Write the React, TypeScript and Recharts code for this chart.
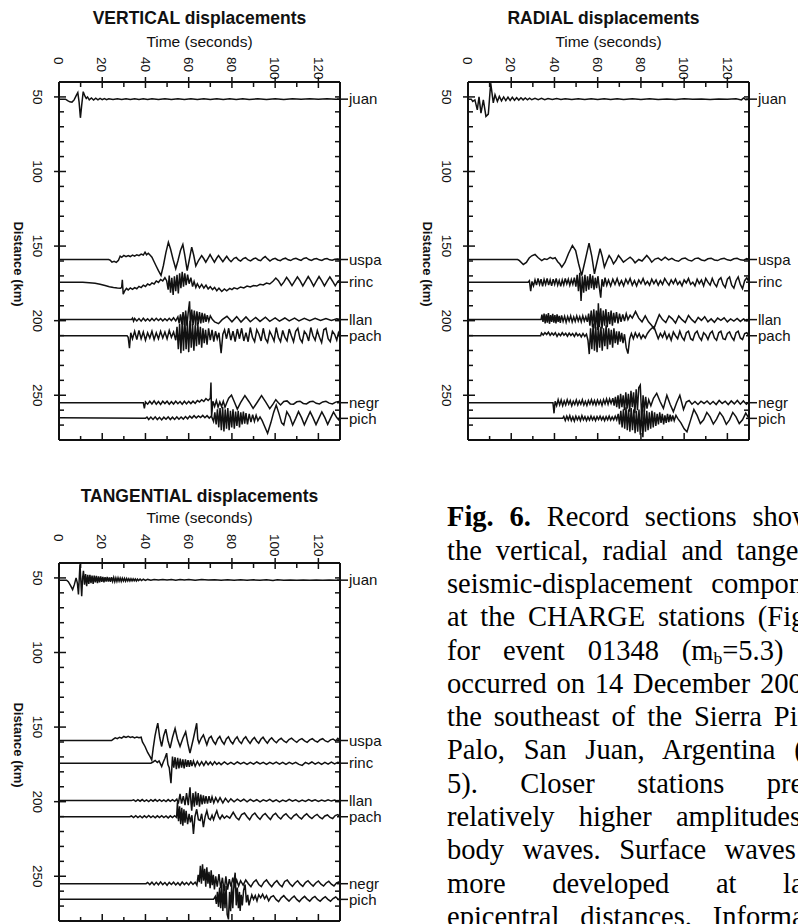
import React from 'react';
import { LineChart, Line, XAxis, YAxis } from 'recharts';

// [time in s, displacement in km (up = positive)] per station trace
type Pt = [number, number];

const STATIONS = ['juan', 'uspa', 'rinc', 'llan', 'pach', 'negr', 'pich'];
const DISTANCES = [51.5, 159, 174.2, 199.3, 210.1, 255, 265.5];

const TIME_LABELS = [0, 20, 40, 60, 80, 100, 120];
const TIME_TICKS = [0, 10, 20, 30, 40, 50, 60, 70, 80, 90, 100, 110, 120];
const DIST_LABELS = [50, 100, 150, 200, 250];
const DIST_TICKS = [50, 60, 70, 80, 90, 100, 110, 120, 130, 140, 150, 160, 170, 180, 190, 200, 210, 220, 230, 240, 250, 260, 270];

// ---------- VERTICAL ----------
const V_JUAN: Pt[] = [[0,0],[3,0],[4,-1],[5,-1.8],[6,-2],[7,-0.5],[8,2.5],[8.7,4.4],[9.3,-2],[9.9,-12.5],[10.5,-4],[11.2,5],[12,2],[12.6,0.5],[13.2,1.5],[14,-0.5],[15,0.8],[16,-0.6],[17,0.6],[18,-0.5],[19,0.5],[20,-0.3],[21,0.4],[22,-0.3],[23,0.3],[25,-0.3],[27,0.3],[29,-0.3],[31,0.3],[33,-0.3],[35,0.3],[37,-0.2],[39,0.3],[41,-0.3],[43,0.2],[46,-0.3],[49,0.2],[52,-0.3],[55,0.3],[58,-0.2],[61,0.3],[64,-0.3],[67,0.2],[70,-0.2],[73,0.3],[76,-0.3],[79,0.2],[82,-0.2],[85,0.2],[88,-0.2],[92,0.2],[96,-0.2],[100,0.2],[104,-0.2],[108,0.2],[112,-0.1],[116,0.2],[120,-0.1],[124,0.2],[128,-0.1],[130,0]];
const V_USPA: Pt[] = [[0,0],[23,0],[23.8,-0.6],[24.5,-1.8],[25.5,-1.2],[26.5,-1.9],[27.5,-0.5],[28.3,2.3],[29,1.5],[30,2.8],[31,1.9],[32,2.7],[33,2],[34,2.9],[35,2.2],[36,3.2],[37,2.6],[38,3.6],[39,3],[39.8,4.9],[40.5,3.2],[41.3,4.2],[42.2,2.8],[43,1.6],[44,-1.5],[45,-4.5],[46,-7.5],[47.2,-10.7],[48.3,-4],[49.5,5],[50.6,11.6],[51.6,7],[52.8,0],[54,-6.2],[55,-1],[56.2,6],[57.3,10.1],[58.3,2],[59.3,-7.4],[60.3,0],[61.4,8.3],[62.3,3],[63.3,-4.3],[64.6,-0.5],[66,2.6],[67,0.5],[67.9,-1.8],[69,1],[69.9,3.3],[71,0.5],[71.9,-1.8],[73,1],[73.8,2.6],[75,0.2],[75.8,-1.5],[77,1],[77.6,2.2],[78.6,0],[79.6,-1.5],[81,0.8],[82,1.4],[83,-0.2],[84,-1],[85.2,0.6],[86.3,1.2],[87.5,-0.3],[88.6,-0.9],[90,0.5],[91,1],[92.2,-0.3],[93.3,-0.8],[94.4,1],[95.4,2],[96.5,0.4],[97.6,-1],[98.8,0.2],[100,0.8],[101.2,-0.3],[102.4,-0.8],[103.6,0.4],[104.8,0.9],[106,-0.2],[107.2,-0.7],[108.4,0.4],[109.6,0.8],[110.8,0],[112,-0.6],[113.2,0.7],[114.4,1.2],[115.6,0],[116.8,-0.6],[118,0.3],[119.2,0.6],[120.4,-0.2],[121.6,-0.6],[122.8,0.3],[124,0.6],[125.2,-0.2],[126.4,-0.5],[127.6,0.2],[128.8,0.4],[130,0]];
const V_RINC: Pt[] = [[0,0],[11,0],[14,-0.3],[16.7,-0.7],[19,-1.4],[21.3,-2.2],[23.3,-3],[25.2,-3.6],[27,-3.9],[28.5,-4],[29,-3.5],[29.3,1.6],[29.7,-8],[30.4,-5.8],[31.2,-4.2],[32,-5.2],[33,-3.8],[34,-4.8],[35,-3.6],[36,-4.4],[37,-2.8],[38,-3.6],[39,-2],[40,-2.9],[41,-1.2],[42,-2],[43,-0.5],[44,-1.2],[45,0.8],[46,-0.2],[47,1.8],[48,0.8],[49,3],[49.8,1],[50.5,-5],[51,4.5],[51.6,-7],[52.2,3],[52.8,-8.5],[53.4,4],[54,-6],[54.6,5],[55.2,-7.5],[55.8,6],[56.4,-4],[57,7],[57.6,-3],[58.2,6],[58.8,-2],[59.5,5],[60.2,-1],[61,3],[61.8,-3],[62.5,0.5],[63.3,-3.5],[64,-1],[65,-3.8],[66,-1.5],[67,-4],[68,-2],[69,-4.5],[70,-3],[71,-5],[72,-3.5],[73,-5.8],[74,-4],[75.3,-6.2],[76.5,-4.5],[77.6,-5.8],[79,-4.2],[80,-5],[81,-3.8],[82.5,-4.5],[84,-3.2],[85.5,-3.8],[87,-2.6],[88.5,-3.2],[90,-2.2],[91.5,-2.6],[93,-1.4],[94.5,-1.8],[96,-0.6],[97.5,-1.2],[99,0.6],[100.3,2.8],[101.5,1],[102.8,-2.2],[104,0],[105.3,3.2],[106.5,0.8],[107.8,-2.3],[109,0.5],[110.3,3.5],[111.5,1],[112.8,-2.5],[114,0.5],[115.3,3.8],[116.5,1],[117.8,-2.6],[119,0.5],[120.3,3.8],[121.5,1],[122.8,-2.5],[124,0.5],[125.3,3.6],[126.5,0.8],[127.8,-2.4],[129,0.5],[130,1.5]];
const V_LLAN: Pt[] = [[0,0],[33.5,0],[34,1],[34.5,-1],[35,0.8],[36,-0.9],[37,0.7],[38,-1],[39,0.9],[40,-0.8],[41,0.6],[42,-0.9],[43,0.8],[44,-0.7],[45,0.9],[46,-0.6],[47,0.7],[48,-0.8],[49,0.6],[50,-0.7],[51,0.9],[52,-0.6],[53,1.2],[54,-0.8],[55,1.8],[55.6,-2.5],[56.2,3.5],[56.8,-3],[57.4,5],[58,-3.5],[58.6,6],[59.2,-4],[59.8,5],[60.4,12.3],[60.8,-4.5],[61.4,6.7],[62,-3.5],[62.6,6],[63.2,-4],[63.8,5.5],[64.4,-3],[65,5],[65.6,-2.5],[66.2,4.5],[66.8,-2],[67.4,4],[68,-1.5],[68.6,3],[69.3,-1],[70,2.5],[71,0],[72,-1.5],[73.8,-2.7],[75.5,0],[77.7,2.2],[80,-1.5],[82.2,2],[84.2,-1.6],[86.5,1.8],[88.5,-1.4],[91,1.5],[93,-1.2],[95.5,1.6],[97.5,-1.1],[100,1.2],[102,-1],[104.5,1.1],[106.5,-0.9],[109,1],[111,-0.8],[113.5,0.9],[116,-0.7],[118.5,0.9],[121,-0.6],[123.5,0.8],[126,-0.5],[128.5,0.6],[130,0]];
const V_PACH: Pt[] = [[0,0],[31.5,0],[32,-1],[32.6,-8.4],[33.2,2],[34,-2],[35,3],[36,-2.5],[37,3.5],[38,-2],[39,2.5],[40,-3],[41,2],[42,-1.5],[43,3],[44,-2.5],[45,2],[46,-2],[47,3],[48,-1.5],[49,2.5],[50,-2],[51,3.5],[52,-1],[53,2.5],[54,-3],[54.6,6],[55.2,-9],[55.8,8],[56.4,-11.7],[57,10],[57.6,-10],[58.2,11.7],[58.8,-9],[59.4,9],[60,-11],[60.6,10],[61.2,-8],[61.8,8],[62.4,-10],[63,7],[63.6,-7],[64.2,9],[64.8,-6],[65.4,6],[66,-8],[66.6,5],[67.2,-5],[67.8,4],[68.5,-6],[69.2,5],[70,-3],[70.8,4],[71.6,-4],[72.4,3],[73.2,-2],[74,2],[75,-11.7],[75.8,1],[76.6,4],[77.5,-2],[78.5,5],[79.5,-3],[80.5,3],[81.5,-4],[82.5,4.5],[83.5,-2],[84.5,5],[85.5,-3.5],[86.5,2],[87.5,-4],[88.5,5.5],[89.5,-1],[90.5,-4],[91.5,4],[92.5,1],[93.5,-3.5],[94.5,5],[95.5,-2],[96.5,-4.5],[97.5,3],[98.5,0],[99.5,-3.5],[100.5,5.5],[101.5,-1],[102.5,-4],[103.5,3.5],[104.5,-1],[105.5,-3.5],[106.5,4.5],[107.5,0],[108.5,-4],[109.5,3],[110.5,5],[111.5,-2],[112.5,-4.5],[113.5,3],[114.5,1],[115.5,-3.5],[116.5,5.5],[117.5,0],[118.5,-3],[119.5,3.5],[120.5,-1],[121.5,-4.5],[122.5,4],[123.5,5],[124.5,-2],[125.5,-4],[126.5,3],[127.5,1],[128.5,-3],[129.3,2],[130,0]];
const V_NEGR: Pt[] = [[0,0],[39,0],[39.5,-3.8],[40,0.5],[41,-1],[42,1],[43,-0.8],[44,1.2],[45,-1],[46,0.8],[47,-1.2],[48,1],[49,-0.6],[50,1],[51,-1],[52,0.7],[53,-0.9],[54,1],[55,-0.7],[56,0.8],[57,-1],[58,1],[59,-0.8],[60,0.9],[61,-0.6],[62,1],[63,-0.5],[64,1.4],[65,0.5],[66,2],[67,0.8],[68,2.8],[69,1.5],[70,3],[70.3,13.6],[70.6,-9],[71.2,1],[72,-2.5],[72.8,1.5],[73.6,-3],[74.4,0.5],[75.2,-2.5],[76,1],[76.8,-3],[77.6,0],[78.5,3],[79.8,5.1],[81,1],[82.5,-4.3],[84,0],[86,4.7],[88,0.5],[89.8,-3.8],[91.8,0.5],[93.7,4.7],[95.6,0.5],[97.5,-4],[99,-1],[100.3,2],[101.5,0],[102.5,-1.5],[104,0.8],[105.5,1.2],[107,-0.8],[108.5,-1],[110,0.6],[111.5,1],[113,-0.5],[114.5,-0.8],[116,0.6],[117.5,1],[119,-0.4],[120.5,-0.8],[122,0.5],[123.5,0.9],[125,-0.3],[126.5,-0.8],[128,0.4],[129.3,0.8],[130,0]];
const V_PICH: Pt[] = [[0,0.5],[20,0.3],[40,0],[40.7,0.8],[41.5,-0.8],[42.5,0.9],[43.5,-0.7],[44.5,1],[45.5,-0.8],[46.5,0.7],[47.5,-1],[48.5,0.8],[49.5,-0.6],[50.5,1],[51.5,-0.8],[52.5,0.8],[53.5,-0.7],[54.5,1],[55.5,-0.6],[56.5,0.9],[57.5,-0.5],[58.5,1.2],[59.5,-0.3],[60.5,1.5],[61.5,0.2],[62.5,1.8],[63.5,0.3],[64.5,1.6],[65.5,0.5],[66.5,2],[67.5,0.4],[68.5,1.8],[69.5,0.2],[70.5,1.5],[71.5,-2],[72.1,4],[72.7,-4],[73.3,6],[73.9,-6],[74.5,7],[75.1,-8],[75.7,7.8],[76.3,-8.7],[76.9,6],[77.5,-7],[78.1,7],[78.7,-8],[79.3,5],[79.9,-6],[80.5,6],[81.1,-7],[81.7,4.5],[82.3,-5],[82.9,5],[83.5,-6],[84.1,4],[84.7,-4],[85.3,4.5],[85.9,-3.5],[86.5,3.5],[87.2,-4],[88,3],[88.8,-2.5],[89.6,2.5],[90.4,-2],[91.2,2],[92,-1.5],[93,1],[94,-1.5],[95,-5],[96.5,-10],[98,-3],[99.3,4],[100.5,8.9],[101.8,3],[103,-3],[104,-4.5],[105.4,4.5],[106.8,1],[108.1,-4.5],[109.5,0],[110.8,4.5],[112.2,0.5],[113.5,-4.3],[114.8,0],[116.2,4.4],[117.5,0.5],[118.9,-4.2],[120.2,0],[121.6,4.3],[123,0.5],[124.3,-4],[125.6,0],[127,4.2],[128.5,0.5],[130,-2]];

// ---------- RADIAL ----------
const R_JUAN: Pt[] = [[0,0],[1.5,0],[2.2,-1.5],[3.2,-0.5],[4.3,-7.2],[5.1,1.5],[6,-9.4],[7.1,-0.5],[8.3,-11.6],[9.4,-10],[10.5,10.7],[11.7,-2.5],[12.5,3],[13.6,-1.5],[14.5,1.8],[15.5,-1.2],[16.5,1.5],[17.5,-1],[18.5,1.3],[19.5,-0.8],[20.5,1.2],[21.5,-0.7],[22.5,1],[23.5,-0.6],[24.5,0.9],[25.5,-0.5],[26.5,0.8],[27.5,-0.4],[28.5,0.7],[29.5,-0.4],[31,0.6],[32.5,-0.3],[34,0.5],[35.5,-0.3],[37,0.4],[39,-0.3],[41,0.4],[43,-0.3],[45,0.3],[48,-0.3],[51,0.3],[54,-0.2],[57,0.3],[60,-0.2],[63,0.2],[66,-0.3],[69,0.2],[72,-0.2],[76,0.2],[80,-0.2],[84,0.2],[88,-0.2],[92,0.1],[96,-0.2],[100,0.2],[104,-0.1],[108,0.1],[112,-0.2],[116,0.1],[120,-0.1],[124,0.2],[126.5,-0.5],[127.5,0.8],[128.5,-0.3],[130,0]];
const R_USPA: Pt[] = [[0,0],[23,0],[23.8,-0.8],[25.6,-3.3],[27,-2],[28.3,1],[29.5,2.5],[31,3.4],[32.5,1.2],[34.1,-0.7],[35.3,0.5],[36.5,0],[38,1.5],[39.2,0.5],[40.3,1.2],[41.5,-1.5],[42.5,-3],[43.4,-5.1],[44.9,-1.8],[46.5,4],[48.3,9.4],[49.8,6],[51.2,-3],[52.6,-10.7],[54.3,0],[56,11],[57.3,2],[58.5,-9.6],[59.8,-1],[61.1,7.2],[62.1,2],[63.1,-5.1],[64.2,-1],[65.3,2.7],[66.3,0.5],[67.3,-2.9],[68.5,-0.5],[69.6,2.7],[70.8,0.5],[71.9,-1.8],[73.5,0],[75,1.6],[76.2,0],[77.3,-2.2],[79,0],[80.5,-1],[82.7,2.7],[84,0.5],[85,-1.8],[86.5,0.3],[88,1],[89.5,-0.5],[91.2,1.5],[92.8,-0.3],[94.3,0.8],[95.8,-0.6],[97.4,-1.2],[99,0.5],[100.5,1],[102,-0.4],[103.5,-1],[105,0.6],[106.5,1],[108,-0.3],[109.5,-0.8],[111,0.5],[112.5,0.9],[114,-0.3],[115.5,-0.7],[117,0.4],[118.5,0.8],[120,-0.2],[121.5,-0.6],[123,0.5],[124.5,0.8],[126,-0.2],[127.5,-0.5],[129,0.6],[130,0]];
const R_RINC: Pt[] = [[0,0],[27.8,0],[28.4,1],[29,-6],[29.6,0.5],[30.3,-2.5],[31,1.5],[31.7,-2],[32.4,2.5],[33.1,-1.5],[33.8,2],[34.5,-2.8],[35.2,1.8],[35.9,-1.5],[36.6,2.5],[37.3,-2],[38,1.5],[38.7,-2.5],[39.4,2],[40.1,-1.5],[40.8,2.5],[41.5,-2],[42.2,1.2],[42.9,-2.8],[43.6,1.5],[44.3,-1.8],[45,2.5],[45.7,-1.2],[46.4,2],[47.1,-2],[47.8,1.8],[48.5,-1.5],[49.2,3],[49.9,-3],[50.5,5],[51.1,-6],[51.7,6.3],[52.3,-12.6],[52.9,4],[53.5,-7],[54.1,5],[54.7,-6],[55.3,4],[55.9,-5],[56.5,5.5],[57.1,-4],[57.7,4.5],[58.3,-5],[58.9,3],[59.5,-4],[60.1,4],[60.7,-3],[61.4,-10.4],[62,2],[62.7,-3],[63.4,3],[64.2,-2],[65,1.5],[66,-2.5],[67,2],[68,-1.5],[69,2.5],[70,-2],[71,1],[72,-2.5],[73,2],[74,-1],[75,2.5],[76,-2],[77,1],[78,-2.5],[79,1.5],[80,-1],[81,2.5],[82,-1.5],[83,0.5],[84,-2],[85,2],[86,-1],[87,1.5],[88,-2],[89,1],[90,-1.5],[91,2.5],[92,0],[93,-2],[94,1.5],[95,-1],[96,2],[97,-1.5],[98,0.5],[99,-2.5],[100,1.5],[101,-0.5],[102,2.5],[103,-1.5],[104,0],[105,-2.5],[106,2],[107,-1],[108,1.5],[109,-2.5],[110,2.5],[111,0],[112,-2],[113,2.5],[114,-1],[115,-3],[116,1.5],[117,3],[118,-1.5],[119,-3.5],[120,2],[121,3.5],[122,-2],[123,-4],[124,1],[125,3.5],[126,-1.5],[127,-4.3],[128,1],[129,3],[130,0]];
const R_LLAN: Pt[] = [[0,0],[33.8,0],[34.2,3.3],[34.7,-1.5],[35.2,4],[35.7,-2.5],[36.2,3.5],[36.7,-2],[37.2,4.4],[37.7,-2.8],[38.2,3],[38.7,-1.5],[39.2,3.8],[39.7,-2],[40.2,3],[40.7,-2.5],[41.2,3.5],[41.7,-1.5],[42.2,2.5],[42.7,-2.2],[43.3,2.8],[44,-1.2],[44.7,2.2],[45.4,-1.8],[46.1,2],[46.8,-1],[47.5,2.5],[48.2,-1.5],[48.9,1.8],[49.6,-1.2],[50.3,2.5],[51,-1],[51.7,2],[52.4,-1.5],[53.1,2.5],[53.8,-1],[54.5,2],[55.2,-1.5],[55.8,4],[56.4,-4],[57,6],[57.6,-5],[58.2,7],[58.8,-6],[59.4,6],[60,-7],[60.3,11],[60.8,-5],[61.4,7.6],[62,-6],[62.6,6],[63.2,-4],[63.8,7],[64.4,-5],[65,5],[65.6,-3],[66.2,6],[66.8,-4],[67.4,4.5],[68,-2],[68.7,5],[69.4,-2.5],[70.1,4],[70.8,-1.5],[71.6,3.5],[72.4,-1],[73.2,4],[74,0],[75,3],[76,1],[77.5,5.4],[79,1],[80.5,-1.5],[82,2.5],[83.5,-1.5],[85,-4],[86,-6],[87.3,-1],[88.5,3.3],[90,0],[91.5,-2],[93,2.5],[94.5,0.5],[96,-2.3],[97.5,2.5],[99,0],[100.5,-2],[102,2.8],[103.5,0],[105,-2],[106.5,1.5],[108,-0.5],[109.5,2],[111,-1.5],[112.5,0.5],[114,-1.8],[115.5,1],[117,-0.5],[118.5,1.2],[120,-1.5],[121.5,0.5],[123,-1],[124.5,0.8],[126,-1.2],[127.5,0.5],[129,-0.8],[130,0]];
const R_PACH: Pt[] = [[0,0],[33.6,0],[34,1.8],[34.8,0.5],[35.6,2],[36.4,0.8],[37.2,2.4],[38,0.2],[38.8,1.8],[39.6,0.5],[40.4,2],[41.2,-0.5],[42,1.5],[42.8,0],[43.6,2],[44.4,0.3],[45.2,1.6],[46,-0.3],[46.8,1.8],[47.6,0.2],[48.4,1.5],[49.2,-0.5],[50,1.8],[50.8,0],[51.6,1.2],[52.4,-0.8],[53.2,1.5],[54,-0.5],[54.8,1],[55.5,-3],[56.1,-12.3],[56.7,5],[57.3,-9],[57.9,8.2],[58.5,-10],[59.1,6],[59.7,-11],[60.3,7],[60.9,-8],[61.5,6],[62.1,-10],[62.7,5],[63.3,-7],[63.9,7],[64.5,-9],[65.1,5],[65.7,-6],[66.3,4],[66.9,-8],[67.5,5],[68.1,-5],[68.7,3],[69.3,-6],[69.9,3],[70.5,-4],[71.1,2],[71.7,-5],[72.4,1],[73.2,-8],[74,-12],[74.8,-2],[75.6,1.5],[76.5,-2],[77.4,2],[78.3,-1],[79.2,1.5],[80.1,-2],[81,0.5],[82,-1.5],[83,1.5],[84,3.5],[85,5],[86,6],[87,2],[88,-2],[89,1.5],[90,-1],[91,2.5],[92,-2],[93,1],[94,-3],[95,2.5],[96,0],[97,-2],[98,3],[99,-1],[100,-3],[101,2],[102,3],[103,-2],[104,-3],[105,1.5],[106,3],[107,-1],[108,-3],[109,2],[110,0.5],[111,-2.5],[112,1.5],[113,3],[114,-1.5],[115,-3],[116,2],[117,3],[118,-2],[119,-2.5],[120,1.5],[121,2.5],[122,-1],[123,-3],[124,2],[125,3],[126,-1.5],[127,-2.5],[128,1.5],[129,2],[130,0]];
const R_NEGR: Pt[] = [[0,0],[39.3,0],[39.8,-7.1],[40.3,1],[41,-2],[41.7,2],[42.4,-1.5],[43.1,1.8],[43.8,-2],[44.5,1.2],[45.2,-1.5],[45.9,2],[46.6,-1],[47.3,1.5],[48,-2],[48.7,1],[49.4,-1.2],[50.1,1.8],[50.8,-1.5],[51.5,1.2],[52.2,-1],[52.9,2],[53.6,-1.5],[54.3,1],[55,-1.8],[55.7,1.5],[56.4,-1],[57.1,2],[57.8,-1.2],[58.5,1.5],[59.2,-1.5],[59.9,1.8],[60.6,-1],[61.3,1.5],[62,-1.8],[62.7,2],[63.4,-0.8],[64.1,2.5],[64.8,-1],[65.5,2.5],[66.2,-0.5],[67,3],[67.6,-2],[68.2,4],[68.8,-3],[69.4,5],[70,-4],[70.6,6],[71.2,-3],[71.8,5],[72.4,-5],[73,7],[73.6,-4],[74.2,6],[74.8,-6],[75.4,8],[76,-3],[76.6,7],[77.2,-7],[77.8,9],[78.4,-5],[79,10],[79.7,11.8],[80.4,-11.4],[81,5],[81.6,-6],[82.2,4],[82.8,-4],[83.6,2],[84.6,-2],[85.8,3],[87.3,6.3],[88.8,1],[90.4,-3.8],[92,5],[93.5,-1],[95,-6],[96.5,0],[98,5],[99.7,-4.5],[101,0.5],[102.3,1.5],[103.6,-1],[105,0.8],[106.4,-1.2],[107.8,1],[109.2,-0.5],[110.6,1.2],[112,-1],[113.4,0.8],[114.8,-1.2],[116.2,1.5],[117.6,-0.5],[119,1],[120.4,-1.2],[121.8,1.2],[123.2,-0.8],[124.6,1.5],[126,-1],[127.4,1.2],[128.8,-1],[130,0.5]];
const R_PICH: Pt[] = [[0,0],[43.8,0],[44.3,1.2],[45,-1.5],[45.7,1.5],[46.4,-1],[47.1,1.8],[47.8,-1.5],[48.5,1],[49.2,-1.8],[49.9,1.5],[50.6,-1],[51.3,1.2],[52,-1.5],[52.7,1.8],[53.4,-1],[54.1,1.2],[54.8,-1.5],[55.5,1],[56.2,-1.2],[56.9,1.5],[57.6,-1],[58.3,1],[59,-1.5],[59.7,1.2],[60.4,-0.8],[61.1,1.5],[61.8,-1],[62.5,1],[63.2,-1.5],[63.9,1.2],[64.6,-1],[65.3,1.5],[66,-1.2],[66.7,1],[67.4,-1],[68.1,1.5],[68.8,-1],[69.5,3],[70.1,-4],[70.7,5],[71.3,-6],[71.9,6],[72.5,-7],[73.1,7.4],[73.7,-8],[74.3,6],[74.9,-9],[75.5,7],[76.1,-8],[76.7,6],[77.3,-10],[77.9,5],[78.5,-9],[79.1,6],[79.7,-11],[80.3,5],[80.9,-12.7],[81.5,6],[82.1,-9],[82.7,5],[83.3,-8],[83.9,4],[84.5,-7],[85.1,5],[85.7,-6],[86.3,4],[86.9,-5],[87.5,3],[88.1,-4],[88.7,4],[89.3,-3],[89.9,3],[90.5,-4],[91.1,2],[91.7,-3],[92.3,3],[92.9,-2.5],[93.5,2.5],[94.1,-2],[94.7,2],[95.4,-1.5],[96.2,2],[97,0],[98.5,-3],[100,-7],[101.3,-9],[102.8,-2],[104.5,6],[106,2],[107.5,-3.5],[109,-1],[110.5,4],[112,1],[113.5,-3.8],[115,-0.5],[116.5,4],[118,1],[119.5,-4],[121,-1],[122.5,4],[124,1],[125.5,-3.5],[127,-1],[128.5,3.5],[130,0]];

// ---------- TANGENTIAL ----------
const T_JUAN: Pt[] = [[0,0],[3.5,0],[4.3,-1],[5.3,-3.5],[6.3,-6.3],[7.1,-3],[7.9,1.5],[8.5,-2],[9,-9.6],[9.4,2],[9.7,10.7],[10.1,0],[10.5,-10.7],[10.9,1],[11.3,6.3],[11.8,-3],[12.3,4],[12.8,-4],[13.3,3.5],[13.8,-2.5],[14.3,3.5],[14.8,-2],[15.3,3],[15.8,-2.5],[16.3,3],[16.8,-1.5],[17.3,2.8],[17.8,-2],[18.3,2.5],[18.8,-1.5],[19.3,2.5],[19.8,-1.2],[20.3,2.2],[20.8,-1.5],[21.3,2],[21.8,-1],[22.3,2.2],[22.8,-1],[23.3,1.8],[23.8,-1.2],[24.3,2],[24.8,-0.8],[25.3,1.8],[25.8,-1],[26.3,1.5],[26.8,-0.8],[27.3,1.6],[27.8,-0.7],[28.3,1.4],[28.8,-0.8],[29.3,1.3],[29.8,-0.6],[30.3,1.2],[30.8,-0.7],[31.3,1.1],[31.8,-0.5],[32.3,1],[32.8,-0.6],[33.3,1],[33.8,-0.5],[34.3,0.9],[34.8,-0.4],[35.3,0.8],[35.8,-0.5],[36.3,0.7],[36.8,-0.3],[37.5,0.7],[38.2,-0.3],[39,0.6],[40,-0.2],[41,0.5],[42.5,0],[44,0.5],[46,0.1],[48,0.5],[50,0.1],[52,0.4],[54,0],[56,0.4],[58,0.1],[60,0.4],[63,0],[66,0.4],[69,0.1],[72,0.3],[75,-0.1],[78,0.3],[81,0],[84,0.2],[87,-0.1],[90,0.2],[93,-0.1],[96,0.2],[99,-0.3],[101,0.2],[104,-0.1],[107,0.1],[110,-0.1],[113,0.1],[116,-0.1],[119,0.1],[122,-0.1],[125,0.1],[128,-0.1],[130,0]];
const T_USPA: Pt[] = [[0,0],[24.3,0],[25,0.8],[26,1.8],[27,1.2],[28,2.2],[29,1.6],[30,2.7],[31,2],[32,2.8],[33,2.1],[34,2.5],[35,1.8],[36,2.4],[37,1.9],[38,2.2],[38.6,-1],[39.8,-4],[41,-8],[42.2,-11],[42.9,-13],[43.6,-5],[44.4,3],[45.1,8],[45.7,11.6],[46.6,2],[47.5,-4],[48.4,3],[49.4,7.6],[50.4,0],[51.4,-5.1],[52.5,2],[53.7,8],[54.8,1],[56,-4],[57.3,1.5],[58.6,5.8],[59.6,-2],[60.6,-8.5],[62.2,1.5],[63.7,11.6],[64.2,1],[64.8,-1.8],[65.8,1.5],[66.8,3.8],[67.6,0.5],[68.4,-2.9],[69.4,1.5],[70.4,2.8],[71.4,-0.5],[72.4,-2.5],[73.4,1],[74.4,2.7],[75.4,-0.5],[76.4,-2.5],[77.4,1],[78.4,2.5],[79.4,-0.5],[80.4,-2.3],[81.4,0.8],[82.4,2.4],[83.4,-0.5],[84.4,-2],[85.4,1],[86.4,2.5],[87.4,0],[88.4,-2],[89.4,0.5],[90.4,2],[91.4,-0.3],[92.4,-1.8],[93.4,0.8],[94.4,2.2],[95.4,0],[96.4,-1.8],[97.4,0.5],[98.4,1.8],[99.5,-0.2],[100.6,-1.5],[101.7,0.5],[102.8,1.5],[104,-0.3],[105.2,-1.4],[106.4,0.6],[107.6,1.6],[108.8,0],[110,-1.2],[111.2,0.5],[112.4,1.3],[113.6,-0.2],[114.8,-1.2],[116,0.4],[117.2,1.2],[118.4,-0.2],[119.6,-1],[120.8,0.5],[122,1.2],[123.2,-0.3],[124.4,-1],[125.6,0.4],[126.8,1],[128,-0.3],[129,1.5],[130,0]];
const T_RINC: Pt[] = [[0,0],[42.5,0],[43.5,0.8],[44.5,1.8],[45.5,0.5],[46.3,1.5],[47.5,-2.2],[48.3,1],[49,3.3],[49.8,6.7],[50.4,-1],[51,-3],[51.8,-13.4],[52.5,4.5],[53.1,-3],[53.7,4],[54.3,-4],[54.9,3.5],[55.5,-3.5],[56.1,3],[56.7,-3],[57.3,2.5],[57.9,-3.5],[58.5,2.5],[59.1,-2.5],[59.7,2],[60.3,-2.5],[60.9,2],[61.5,-2],[62.2,1.5],[63,-2],[64,1.2],[65,-1.5],[66,1],[67,-1.5],[68,1.2],[69,-1],[70,0.8],[71,-1.2],[72,1],[73,-0.8],[74,0.5],[75,-1],[76.5,0.8],[78,-0.8],[79.5,0.5],[81,-0.8],[82.5,0.8],[84,-0.5],[85.5,0.6],[87,-0.8],[88.5,0.5],[90,-0.6],[91.5,0.8],[93,-0.5],[94.5,0.5],[96,-0.8],[97.5,0.6],[99,-0.5],[100.5,0.7],[102,-0.6],[103.5,0.5],[105,-0.8],[106.5,0.5],[108,-0.5],[109.5,0.6],[111,-0.8],[112.5,-1.5],[114,0.5],[115.5,-0.5],[117,0.8],[118.5,-0.6],[120,0.6],[121.5,-0.8],[123,0.5],[124.5,-0.6],[126,0.7],[127.5,-0.5],[129,0.6],[130,0]];
const T_LLAN: Pt[] = [[0,0],[33.5,0],[34.5,0.5],[35.5,-0.5],[36.5,0.6],[37.5,-0.4],[38.5,0.7],[39.5,-0.5],[40.5,0.5],[41.5,-0.6],[42.5,0.6],[43.5,-0.4],[44.5,0.7],[45.5,-0.5],[46.5,0.6],[47.5,-0.5],[48.5,0.5],[49.5,-0.6],[50.5,0.7],[51.5,-0.5],[52.5,0.6],[53.5,-0.5],[54.5,1],[55.2,-2],[56,4.5],[56.7,-2],[57.5,3],[58.3,-3],[59,5],[59.8,-3],[60.6,8.9],[61.1,-2],[61.4,-6.7],[62,5],[62.6,-4],[63.2,6],[63.8,-3],[64.4,5],[65,-4],[65.6,4],[66.2,-2.5],[66.8,3.5],[67.4,-2],[68,3],[68.7,-2],[69.4,3],[70.1,-1.5],[70.8,2.5],[71.6,-1.5],[72.5,2],[73.5,-1],[74.5,2],[75.8,-1.5],[77,1.5],[78.3,-1],[79.5,1.2],[81,-0.8],[82.5,1],[84,-0.5],[85.5,0.9],[87,-0.8],[88.5,0.8],[90,-0.5],[91.5,0.6],[93,-0.8],[94.5,0.5],[96,-0.4],[97.5,0.8],[99,-0.6],[100.5,0.5],[102,-0.8],[103.5,0.4],[105,-0.5],[106.5,0.8],[108,-0.4],[109.5,0.5],[111,-0.7],[112.5,0.4],[114,-0.5],[115.5,0.7],[117,-0.3],[118.5,0.5],[120,-0.6],[121.5,0.4],[123,-0.4],[124.5,0.6],[126,-0.3],[127.5,0.4],[129,-0.4],[130,0]];
const T_PACH: Pt[] = [[0,0],[32.8,0],[33.5,0.6],[34.5,-0.5],[35.5,0.7],[36.5,-0.6],[37.5,0.5],[38.5,-0.7],[39.5,0.6],[40.5,-0.5],[41.5,0.8],[42.5,-0.6],[43.5,0.5],[44.5,-0.7],[45.5,0.6],[46.5,-0.5],[47.5,0.7],[48.5,-0.6],[49.5,0.5],[50.5,-0.8],[51.5,0.6],[52.5,-0.5],[53.5,0.7],[54.4,-0.5],[54.8,9.6],[55.3,-3],[55.8,7],[56.3,-5],[56.8,6],[57.3,-6],[57.8,5],[58.3,-4],[58.8,4],[59.5,-5],[60.2,2],[60.8,-3.8],[61.5,1],[62.2,-11.6],[62.9,0],[63.7,5],[64.5,-2],[65.3,-2.5],[66,2],[66.8,-7],[67.6,0],[68.4,4],[69.2,-1],[70,-2],[70.8,1],[71.5,-2],[72.3,1.5],[73,4],[73.8,0],[74.5,-1.5],[75.5,1],[76.5,-1],[77.6,0.5],[79,-1],[80.6,3],[82,-0.5],[83.2,-2],[84.5,1.5],[85.8,2.5],[87,0],[88.2,-2],[89.4,1],[90.6,2.5],[91.8,0],[93,-1.8],[94.2,0.8],[95.4,2.2],[96.6,0],[97.8,-1.8],[99,1],[100.2,2.3],[101.4,0],[102.6,-1.5],[103.8,0.8],[105,2],[106.2,0],[107.4,-1.5],[108.6,0.6],[109.8,1.8],[111,-0.2],[112.2,-1.5],[113.4,0.6],[114.6,2],[115.8,0],[117,-1.2],[118.2,0.5],[119.4,1.6],[120.6,-0.3],[121.8,-1.4],[123,0.5],[124.2,1.2],[125.4,-0.5],[126.6,-1.2],[127.8,0.8],[129,1.4],[130,0]];
const T_NEGR: Pt[] = [[0,0],[40.3,0],[41,0.8],[42,-0.6],[43,1],[44,-0.8],[45,0.9],[46,-0.7],[47,1.2],[48,-0.6],[49,0.8],[50,-1],[51,0.9],[52,-0.5],[53,1],[54,-0.8],[55,0.7],[56,-1],[57,1.1],[58,-0.6],[59,0.8],[60,-0.8],[61,1.2],[62,-0.5],[63,1],[63.8,-1],[64.4,6],[64.9,1],[65.4,12],[65.9,0],[66.4,13],[66.9,2],[67.4,10],[67.9,-2],[68.4,11],[68.9,0],[69.4,8],[69.9,-3],[70.4,9],[70.9,-1],[71.4,6],[71.9,-3.8],[72.5,5],[73.2,-2],[74,6.5],[74.8,-3],[75.6,4],[76.4,-5],[77.2,5],[78,-4],[78.8,3],[79.6,-2],[80.4,4],[81.3,-1.5],[82.2,2.5],[83.1,-1.5],[84,2],[85.2,-1],[86.4,2.5],[87.6,0],[88.8,-2],[90,1],[91.2,2.5],[92.4,-0.5],[93.6,-2],[94.8,1],[96,2.5],[97.2,0],[98.4,-2],[99.6,0.5],[100.8,2],[102,-0.5],[103.2,-2],[104.4,1.5],[105.6,2.5],[106.8,0],[108,-1.8],[109.2,0.5],[110.4,2],[111.6,-0.3],[112.8,-1.8],[114,0.8],[115.2,2],[116.4,0],[117.6,-1.6],[118.8,0.5],[120,1.8],[121.2,-0.3],[122.4,-1.6],[123.6,0.5],[124.8,1.6],[126,-0.3],[127.2,-1.5],[128.4,0.5],[129.5,1.2],[130,0]];
const T_PICH: Pt[] = [[0,0],[30,0],[60,0],[71.5,0],[72.3,2],[72.8,-3],[73.3,5],[73.8,-5],[74.3,8],[74.8,-6],[75.3,10],[75.8,-7.8],[76.3,7],[76.8,-6],[77.3,9],[77.8,-10],[78.4,-13.4],[78.9,5],[79.4,-8],[79.9,10],[80.4,-6],[81,12],[81.5,17.9],[82,-4],[82.5,8],[83,-6],[83.5,5],[83.8,-7.8],[84.3,3],[84.8,-4],[85.4,6],[86.1,10],[86.7,-2],[87.3,3],[87.9,-4],[88.4,-1],[89.2,3],[90,0],[90.8,2.5],[91.6,-1],[92.4,3],[93.3,1],[94.2,3.5],[95.1,0.5],[96,2.5],[97,-1],[98,1.5],[99.2,2.5],[100.4,0],[101.6,-1.5],[102.8,1],[104,2.5],[105.2,0.5],[106.4,-1.2],[107.6,0.8],[108.8,2.2],[110,0],[111.2,-1.5],[112.4,0.5],[113.6,2],[114.8,0.2],[116,-1.2],[117.2,0.8],[118.4,2],[119.6,0],[120.8,-1.3],[122,0.5],[123.2,1.8],[124.4,0],[125.6,-1.2],[126.8,0.6],[128,1.6],[129.2,0],[130,-0.5]];

const VERTICAL = [V_JUAN, V_USPA, V_RINC, V_LLAN, V_PACH, V_NEGR, V_PICH];
const RADIAL = [R_JUAN, R_USPA, R_RINC, R_LLAN, R_PACH, R_NEGR, R_PICH];
const TANGENTIAL = [T_JUAN, T_USPA, T_RINC, T_LLAN, T_PACH, T_NEGR, T_PICH];

const INK = '#111';
const SANS = '"Liberation Sans", Arial, sans-serif';
const SERIF = '"Liberation Serif", "Times New Roman", serif';

// chart frame: 400x460, plot box from (59,82) to (340,440)
const W = 400;
const H = 460;
const BOX_L = 59;
const BOX_T = 82;
const BOX_R = 340;
const BOX_B = 440;

const RIGHT_TICKS = [
  ...DIST_TICKS.filter((v) => !DISTANCES.some((d) => Math.abs(d - v) < 0.5)),
  ...DISTANCES,
].sort((a, b) => a - b);

interface PanelProps {
  left: number;
  top: number;
  title: string;
  traces: Pt[][];
  titleY: number;
  timeY: number;
  labelTop: number;
  titleDx?: number;
}

const Panel: React.FC<PanelProps> = ({ left, top, title, traces, titleY, timeY, labelTop, titleDx = 0 }) => {
  const cx = (BOX_L + BOX_R) / 2;

  const topTick = (p: any) => {
    const v = p.payload.value;
    const major = v % 20 === 0;
    return (
      <g>
        {v > 0 && (
          <line x1={p.x} x2={p.x} y1={major ? p.y - 5 : p.y} y2={p.y + (major ? 6 : 5)} stroke={INK} strokeWidth={1.5} />
        )}
        {TIME_LABELS.includes(v) && (
          <text
            transform={`translate(${p.x},${labelTop}) rotate(90)`}
            dy="0.35em"
            textAnchor="start"
            fontFamily={SANS}
            fontSize={13.5}
            fill={INK}
          >
            {v}
          </text>
        )}
      </g>
    );
  };

  const bottomTick = (p: any) => {
    const v = p.payload.value;
    const major = v % 20 === 0;
    return <line x1={p.x} x2={p.x} y1={p.y} y2={p.y - (major ? 7 : 4)} stroke={INK} strokeWidth={1.5} />;
  };

  const leftTick = (p: any) => {
    const v = p.payload.value;
    const major = DIST_LABELS.includes(v);
    return (
      <g>
        <line x1={major ? p.x - 5 : p.x} x2={p.x + (major ? 7 : 5)} y1={p.y} y2={p.y} stroke={INK} strokeWidth={1.5} />
        {major && (
          <text
            transform={`translate(38,${p.y}) rotate(90)`}
            dy="0.35em"
            textAnchor="middle"
            fontFamily={SANS}
            fontSize={13.5}
            fill={INK}
          >
            {v}
          </text>
        )}
      </g>
    );
  };

  const rightTick = (p: any) => {
    const v = p.payload.value;
    const idx = DISTANCES.indexOf(v);
    if (idx >= 0) {
      return (
        <g>
          <line x1={p.x - 3} x2={p.x + 8} y1={p.y} y2={p.y} stroke={INK} strokeWidth={1.5} />
          <text x={p.x + 9} y={p.y} dy="0.35em" fontFamily={SANS} fontSize={15} fill={INK}>
            {STATIONS[idx]}
          </text>
        </g>
      );
    }
    return <line x1={p.x - 5} x2={p.x} y1={p.y} y2={p.y} stroke={INK} strokeWidth={1.5} />;
  };

  const axisLine = { stroke: INK, strokeWidth: 2 };

  return (
    <div style={{ position: 'absolute', left, top, width: W, height: H }}>
      <LineChart width={W} height={H} margin={{ top: 0, right: 0, bottom: 0, left: 0 }}>
        <XAxis
          xAxisId="top"
          orientation="top"
          type="number"
          dataKey="t"
          domain={[0, 130]}
          allowDataOverflow
          ticks={TIME_TICKS}
          interval={0}
          height={BOX_T}
          tickSize={0}
          tickMargin={0}
          tickLine={false}
          axisLine={axisLine}
          tick={topTick}
        />
        <XAxis
          xAxisId="bottom"
          orientation="bottom"
          type="number"
          dataKey="t"
          domain={[0, 130]}
          allowDataOverflow
          ticks={TIME_TICKS.slice(1)}
          interval={0}
          height={H - BOX_B}
          tickSize={0}
          tickMargin={0}
          tickLine={false}
          axisLine={axisLine}
          tick={bottomTick}
        />
        <YAxis
          yAxisId="left"
          orientation="left"
          type="number"
          domain={[40, 280]}
          allowDataOverflow
          reversed
          ticks={DIST_TICKS}
          interval={0}
          width={BOX_L}
          tickSize={0}
          tickMargin={0}
          tickLine={false}
          axisLine={axisLine}
          tick={leftTick}
        />
        <YAxis
          yAxisId="right"
          orientation="right"
          type="number"
          domain={[40, 280]}
          allowDataOverflow
          reversed
          ticks={RIGHT_TICKS}
          interval={0}
          width={W - BOX_R}
          tickSize={0}
          tickMargin={0}
          tickLine={false}
          axisLine={axisLine}
          tick={rightTick}
        />
        {traces.map((pts, i) => (
          <Line
            key={STATIONS[i]}
            xAxisId="top"
            yAxisId="left"
            data={pts.map(([t, a]) => ({ t, d: DISTANCES[i] - a }))}
            dataKey="d"
            type="linear"
            stroke={INK}
            strokeWidth={1.5}
            dot={false}
            activeDot={false}
            isAnimationActive={false}
          />
        ))}
      </LineChart>
      <svg width={W} height={H} style={{ position: 'absolute', left: 0, top: 0, pointerEvents: 'none' }}>
        <text x={cx + titleDx} y={titleY} textAnchor="middle" fontFamily={SANS} fontSize={17.5} fontWeight="bold" fill={INK}>
          {title}
        </text>
        <text x={cx} y={timeY} textAnchor="middle" fontFamily={SANS} fontSize={15.5} fill={INK}>
          Time (seconds)
        </text>
        <text
          transform={`translate(18.5,264) rotate(90)`}
          dy="0.35em"
          textAnchor="middle"
          fontFamily={SANS}
          fontSize={13}
          fontWeight="bold"
          fill={INK}
        >
          Distance (km)
        </text>
      </svg>
    </div>
  );
};

const lineStyle: React.CSSProperties = { textAlign: 'justify', textAlignLast: 'justify', height: 33.3 };

const Caption: React.FC = () => (
  <div
    style={{
      position: 'absolute',
      left: 447,
      top: 500.4,
      width: 402,
      fontFamily: SERIF,
      fontSize: 28.5,
      lineHeight: '33.3px',
      color: '#000',
    }}
  >
    <div style={lineStyle}><b>Fig. 6.</b> Record sections showing</div>
    <div style={lineStyle}>the vertical, radial and tangential</div>
    <div style={lineStyle}>seismic-displacement components</div>
    <div style={lineStyle}>at the CHARGE stations (Fig. 1)</div>
    <div style={lineStyle}>
      for event 01348 (m<span style={{ fontSize: '0.62em', verticalAlign: '-0.2em', lineHeight: 0 }}>b</span>=5.3) that
    </div>
    <div style={lineStyle}>occurred on 14 December 2000 to</div>
    <div style={lineStyle}>the southeast of the Sierra Pie de</div>
    <div style={lineStyle}>Palo, San Juan, Argentina (Fig.</div>
    <div style={lineStyle}>5). Closer stations present</div>
    <div style={lineStyle}>relatively higher amplitudes of</div>
    <div style={lineStyle}>body waves. Surface waves are</div>
    <div style={lineStyle}>more developed at larger</div>
    <div style={lineStyle}>epicentral distances. Information</div>
  </div>
);

export default function App() {
  return (
    <div style={{ position: 'absolute', left: 0, top: 0, width: 798, height: 924, overflow: 'hidden', background: '#fff' }}>
      <Panel left={0} top={0} title="VERTICAL displacements" traces={VERTICAL} titleY={24} timeY={46.5} labelTop={57} />
      <Panel left={409} top={0} title="RADIAL displacements" traces={RADIAL} titleY={24} timeY={46.5} labelTop={57} titleDx={-5} />
      <Panel left={0} top={481} title="TANGENTIAL displacements" traces={TANGENTIAL} titleY={21} timeY={42.3} labelTop={53} />
      <Caption />
    </div>
  );
}
